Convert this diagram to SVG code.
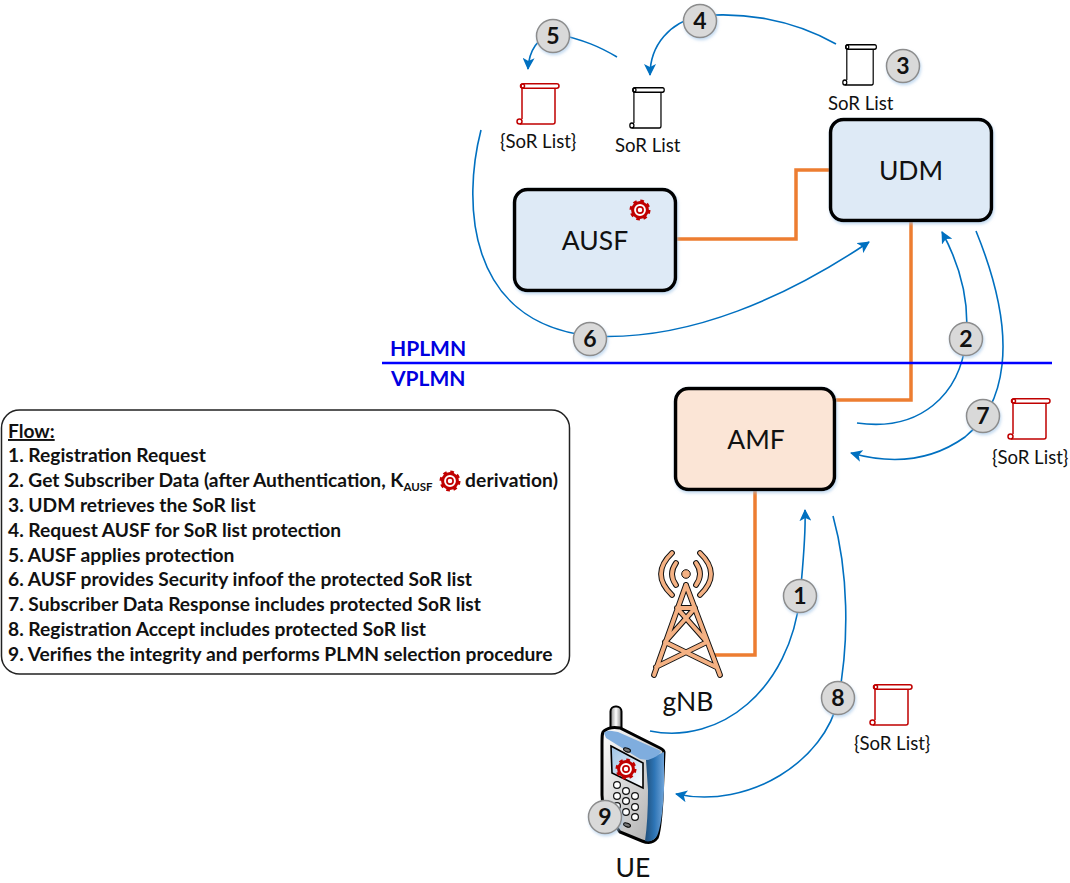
<svg xmlns="http://www.w3.org/2000/svg" xmlns:xlink="http://www.w3.org/1999/xlink" width="1070" height="883" viewBox="0 0 1070 883">
<style>
text{font-family:Lato,Carlito,"Open Sans",sans-serif;fill:#111}
.lbl{font-size:18.6px}
.name{font-size:26.5px;text-anchor:middle}
.num{font-size:23px;font-weight:700;text-anchor:middle}
.flow{font-size:19.2px;font-weight:700}
.plmn{font-size:21px;font-weight:700;fill:#0000e0}
.box{stroke:#000;stroke-width:3.5;filter:url(#sh)}
.orange{fill:none;stroke:#ed7d31;stroke-width:3.5;stroke-linejoin:miter}
.flowline{fill:none;stroke:#0070c0;stroke-width:1.6}
.arrow{marker-end:url(#ah)}
.bub{fill:#d9d9d9;stroke:#8c8c8c;stroke-width:1.5;filter:url(#sh)}
.red{color:#c00000}
.blk{color:#000}
.key{fill:#fff;stroke:#111;stroke-width:1.2}
</style>
<defs>
<filter id="sh" x="-20%" y="-20%" width="140%" height="140%"><feDropShadow dx="1" dy="2" stdDeviation="1.5" flood-color="#9dc3e6" flood-opacity=".6"/></filter>
<marker id="ah" viewBox="0 0 12 12" refX="11" refY="6" markerWidth="12" markerHeight="12" markerUnits="userSpaceOnUse" orient="auto"><path d="M0,0 L12,6 L0,12 L3,6 Z" fill="#0070c0"/></marker>
<g id="scroll" fill="none" stroke="currentColor" stroke-width="1.5">
<rect x="5" y=".75" width="38" height="4.5" rx="2.2" fill="#fff"/>
<circle cx="6.5" cy="3" r="2"/>
<path d="M6,5 V36"/>
<path d="M4,41 H37 Q39,41 39,39 V5"/>
<circle cx="3.5" cy="38.5" r="2.5"/>
</g>
<g id="gear">
<circle r="9" fill="none" stroke="#c00000" stroke-width="3" stroke-dasharray="3.53 3.54"/>
<circle r="7.4" fill="#fff" stroke="#c00000" stroke-width="3"/>
<circle r="3.1" fill="none" stroke="#c00000" stroke-width="1.7"/>
</g>
<linearGradient id="face" x1="0" y1="0" x2="1" y2="1"><stop offset="0" stop-color="#fff"/><stop offset="1" stop-color="#a6a6a6"/></linearGradient>
<linearGradient id="side" x1="0" y1="0" x2="1" y2="0"><stop offset="0" stop-color="#1f4e79"/><stop offset=".5" stop-color="#2e75b6"/><stop offset="1" stop-color="#6fa3d8"/></linearGradient>
<linearGradient id="ant" x1="0" y1="0" x2="1" y2="0"><stop offset="0" stop-color="#888"/><stop offset=".5" stop-color="#fff"/><stop offset="1" stop-color="#888"/></linearGradient>
<linearGradient id="scr" x1="0" y1="0" x2="1" y2="1"><stop offset="0" stop-color="#9dc3e6"/><stop offset="1" stop-color="#fff"/></linearGradient>
</defs>

<g id="connectors">
<path class="orange" d="M676,239 H796 V170 H830"/>
<path class="orange" d="M911,221 V400 H835"/>
<path class="orange" d="M755,490 V655 H712"/>
<path class="flowline arrow" d="M836,44 C790,18 740,12 700,16 C670,22 650,45 650,75"/>
<path class="flowline arrow" d="M617,57 C600,47 585,40 553,33 C538,38 529,50 528,69"/>
<path class="flowline arrow" d="M481,130 C463,200 465,322 590,336 C690,342 790,295 869,242"/>
<path class="flowline arrow" d="M857,423 C920,432 960,395 966,340 C970,300 960,265 942,232"/>
<path class="flowline arrow" d="M976,231 C998,285 1006,330 1002,365 C998,400 985,420 965,437 C930,462 890,464 851,453"/>
<path class="flowline arrow" d="M650,731 C720,745 790,690 800,596 C803,565 806,535 805,510"/>
<path class="flowline arrow" d="M833,516 C848,570 850,640 838,700 C825,760 750,810 676,794"/>
<path d="M382,363 H1052" fill="none" stroke="#0000ff" stroke-width="2.6"/>
</g>

<g id="plmn">
<text class="plmn" x="390" y="356">HPLMN</text>
<text class="plmn" x="391" y="386">VPLMN</text>
</g>

<g id="udm">
<rect class="box" x="830.5" y="119.5" width="161" height="101" rx="13" fill="#deeaf6"/>
<text class="name" x="911" y="180">UDM</text>
</g>
<g id="ausf">
<rect class="box" x="514.5" y="189.5" width="161" height="101" rx="13" fill="#deeaf6"/>
<text class="name" x="595" y="250">AUSF</text>
<use href="#gear" transform="translate(640 210)"/>
</g>
<g id="amf">
<rect class="box" x="675.5" y="388.5" width="159" height="101" rx="13" fill="#fbe5d6"/>
<text class="name" x="756" y="449">AMF</text>
</g>

<g id="gnb">
<g fill="none" stroke-linecap="round" stroke-linejoin="round">
<g stroke="#111" stroke-width="5.8">
<path d="M686,585 L654,675 M686,585 L720,675 M677,608 H695 M677,608 L707,642 M695,608 L665,642 M665,642 L716,667 M707,642 L656,667"/>
<path d="M676,563 Q668,574 676,585 M696,563 Q704,574 696,585 M672,553 Q650,574 672,595 M700,553 Q722,574 700,595"/>
</g>
<g stroke="#f4b183" stroke-width="3.8">
<path d="M686,585 L654,675 M686,585 L720,675 M677,608 H695 M677,608 L707,642 M695,608 L665,642 M665,642 L716,667 M707,642 L656,667"/>
<path d="M676,563 Q668,574 676,585 M696,563 Q704,574 696,585 M672,553 Q650,574 672,595 M700,553 Q722,574 700,595"/>
</g>
</g>
<circle cx="686" cy="574" r="4.3" fill="#f4b183" stroke="#111" stroke-width="1"/>
<text class="name" x="688" y="711">gNB</text>
</g>

<g id="ue">
<rect x="610.5" y="706.5" width="11" height="30" rx="5" fill="url(#ant)" stroke="#000" stroke-width="2"/>
<path d="M604,731 C602,732 602,736 602,745 L602,795 Q602,808 610,818 L620,832 L642,841 Q652,845 657,838 Q660,832 662,800 L664,752 Q664,750 660,748 L620,728 Q610,726 604,731 Z" fill="url(#face)" stroke="#000" stroke-width="3"/>
<path d="M646,760 L664,752 L664,790 Q662,825 657,836 Q652,843 645,841 Q648,820 648,790 Z" fill="url(#side)"/>
<path d="M604,733 Q606,730 612,731 L618,732 L661,751 Q660,756 648,760 L640,759 L606,738 Z" fill="#7fadde"/>
<path d="M611,746 L643,763 L643,788 L612,773 Z" fill="url(#scr)" stroke="#000" stroke-width="1.6"/>
<ellipse cx="627" cy="750" rx="3.6" ry="1.8" fill="#777" stroke="#000" transform="rotate(20 627 750)"/>
<ellipse cx="627" cy="825" rx="3.6" ry="1.8" fill="#777" stroke="#000" transform="rotate(20 627 825)"/>
<use href="#gear" transform="translate(626 769)"/>
<circle class="key" cx="617" cy="785" r="3.4"/><circle class="key" cx="626" cy="791" r="3.4"/><circle class="key" cx="635" cy="796" r="3.4"/>
<circle class="key" cx="617" cy="796" r="3.4"/><circle class="key" cx="626" cy="801" r="3.4"/><circle class="key" cx="635" cy="807" r="3.4"/>
<circle class="key" cx="617" cy="806" r="3.4"/><circle class="key" cx="626" cy="812" r="3.4"/><circle class="key" cx="635" cy="817" r="3.4"/>
<text class="name" x="633" y="877">UE</text>
</g>

<g id="scroll-5"><use href="#scroll" class="red" transform="translate(516 83)"/><text class="lbl" x="500" y="148">{SoR List}</text></g>
<g id="scroll-4"><use href="#scroll" class="blk" transform="translate(629 87) scale(.82 1)"/><text class="lbl" x="615" y="152">SoR List</text></g>
<g id="scroll-3"><use href="#scroll" class="blk" transform="translate(842 44) scale(.8 1)"/><text class="lbl" x="828" y="110">SoR List</text></g>
<g id="scroll-7"><use href="#scroll" class="red" transform="translate(1007 398)"/><text class="lbl" x="992" y="464">{SoR List}</text></g>
<g id="scroll-8"><use href="#scroll" class="red" transform="translate(869 684)"/><text class="lbl" x="854" y="750">{SoR List}</text></g>

<g id="step-1"><circle class="bub" cx="800" cy="596" r="16.5"/><text class="num" x="800" y="604">1</text></g>
<g id="step-2"><circle class="bub" cx="966" cy="339" r="16.5"/><text class="num" x="966" y="347">2</text></g>
<g id="step-3"><circle class="bub" cx="903" cy="66" r="16.5"/><text class="num" x="903" y="74">3</text></g>
<g id="step-4"><circle class="bub" cx="700" cy="21" r="16.5"/><text class="num" x="700" y="29">4</text></g>
<g id="step-5"><circle class="bub" cx="553" cy="36" r="16.5"/><text class="num" x="553" y="44">5</text></g>
<g id="step-6"><circle class="bub" cx="590" cy="339" r="16.5"/><text class="num" x="590" y="347">6</text></g>
<g id="step-7"><circle class="bub" cx="983" cy="416" r="16.5"/><text class="num" x="983" y="424">7</text></g>
<g id="step-8"><circle class="bub" cx="838" cy="698" r="16.5"/><text class="num" x="838" y="706">8</text></g>
<g id="step-9"><circle class="bub" cx="605" cy="817" r="16.5"/><text class="num" x="605" y="825">9</text></g>

<g id="flow-box">
<rect x="1.5" y="410" width="568" height="264" rx="18" fill="#fff" stroke="#222" stroke-width="1.5"/>
<text class="flow" x="8" y="438" text-decoration="underline">Flow:</text>
<text class="flow" x="8" y="462">1. Registration Request</text>
<text class="flow" x="8" y="487">2. Get Subscriber Data (after Authentication, K<tspan font-size="11.5" dy="4">AUSF</tspan></text>
<use href="#gear" transform="translate(450 481)"/>
<text class="flow" x="465" y="487" textLength="93">derivation)</text>
<text class="flow" x="8" y="512">3. UDM retrieves the SoR list</text>
<text class="flow" x="8" y="537">4. Request AUSF for SoR list protection</text>
<text class="flow" x="8" y="562">5. AUSF applies protection</text>
<text class="flow" x="8" y="586">6. AUSF provides Security infoof the protected SoR list</text>
<text class="flow" x="8" y="611">7. Subscriber Data Response includes protected SoR list</text>
<text class="flow" x="8" y="636">8. Registration Accept includes protected SoR list</text>
<text class="flow" x="8" y="661">9. Verifies the integrity and performs PLMN selection procedure</text>
</g>
</svg>
